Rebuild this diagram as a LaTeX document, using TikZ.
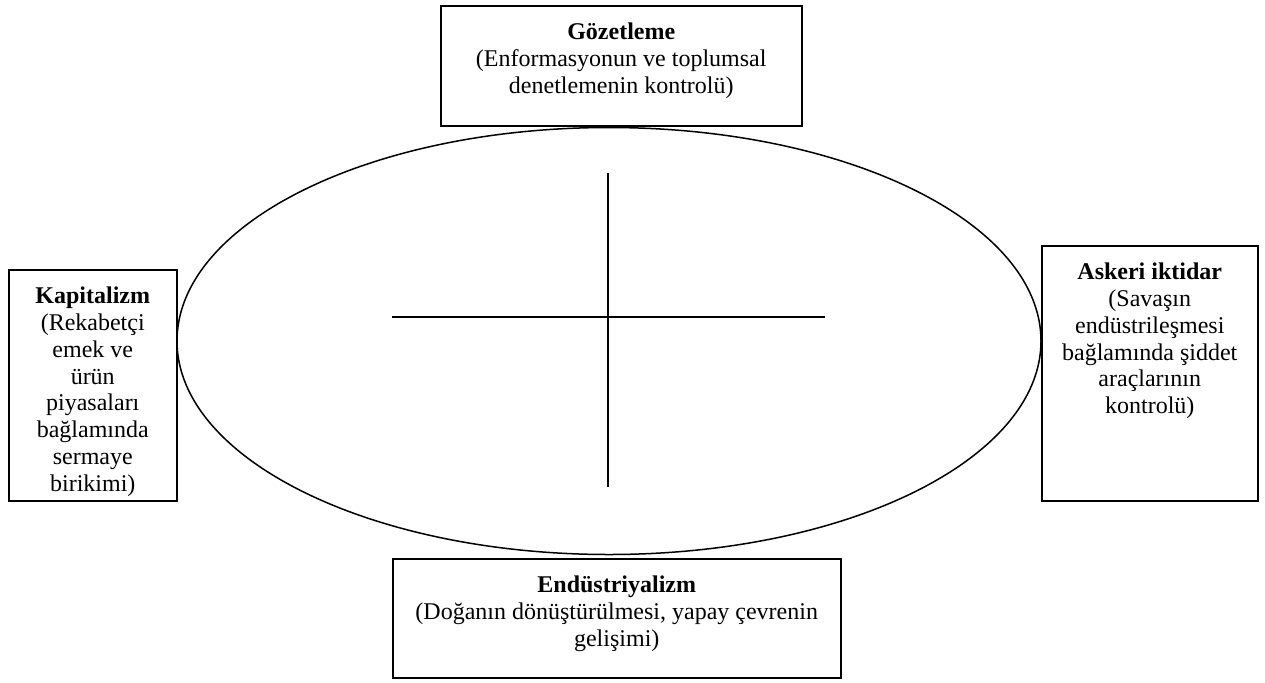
\documentclass[tikz,border=0pt]{standalone}
\usepackage{fontspec}
\setmainfont{Liberation Serif}
\usetikzlibrary{shapes}

% text block of a box: fixed size, text at the top
\newcommand{\kutu}[3]{%
  \begin{minipage}[t][#2][t]{#1}
    \centering\fontsize{12}{13.4}\selectfont
    \vspace*{7.6pt}\strut #3
  \end{minipage}}

\begin{document}
\begin{tikzpicture}[x=0.5pt, y=-0.5pt,
    box/.style={draw, fill=white, line width=0.75pt, inner sep=0pt, anchor=north west},
    cizgi/.style={line width=0.75pt}
]
    \useasboundingbox (0,0) rectangle (1265,682);

    % Ellipse in the middle
    \node[draw, ellipse, line width=0.75pt, minimum width=432pt, minimum height=213.5pt, inner sep=0pt] (elips) at (609,341) {};

    % Cross
    \coordinate (ust) at (608,173);
    \coordinate (alt) at (608,487);
    \coordinate (sol) at (392,317);
    \coordinate (sag) at (825,317);
    \draw[cizgi] (ust) -- (alt);
    \draw[cizgi] (sol) -- (sag);

    % Four dimensions
    \node[box] (gozetleme) at (440,5) {\kutu{180.5pt}{60pt}{\textbf{Gözetleme}\\(Enformasyonun ve toplumsal\\denetlemenin kontrolü)}};
    \node[box] (kapitalizm) at (8,269) {\kutu{84pt}{115.5pt}{\textbf{Kapitalizm}\\(Rekabetçi\\emek ve\\ürün\\piyasaları\\bağlamında\\sermaye\\birikimi)}};
    \node[box] (askeri) at (1041,245) {\kutu{108pt}{127.5pt}{\textbf{Askeri iktidar}\\(Savaşın\\endüstrileşmesi\\bağlamında şiddet\\araçlarının\\kontrolü)}};
    \node[box] (endustri) at (392,558) {\kutu{224pt}{59.5pt}{\textbf{Endüstriyalizm}\\(Doğanın dönüştürülmesi, yapay çevrenin\\gelişimi)}};
\end{tikzpicture}
\end{document}
